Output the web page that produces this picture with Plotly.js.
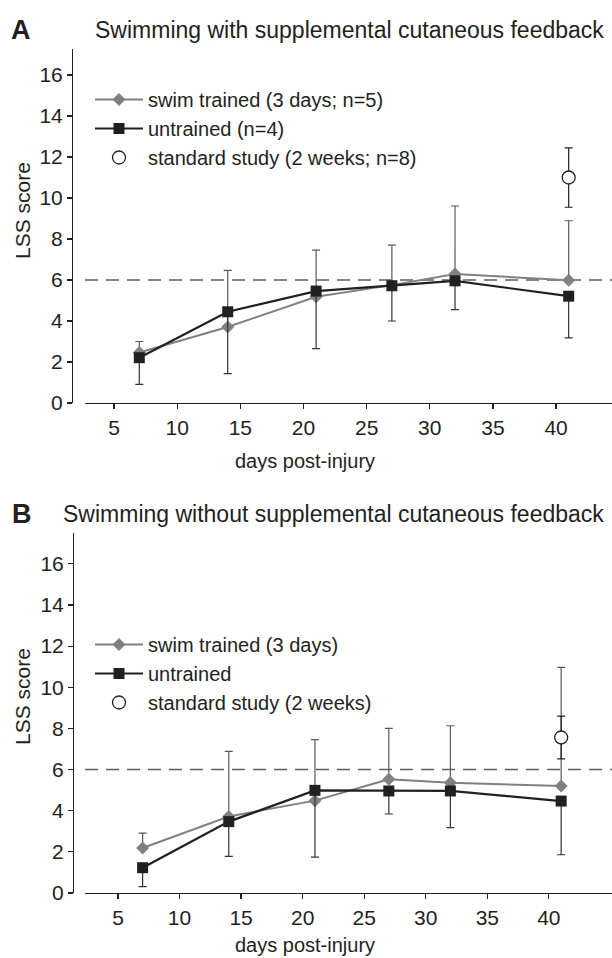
<!DOCTYPE html>
<html><head><meta charset="utf-8">
<script src="https://cdn.plot.ly/plotly-3.0.1.min.js"></script>
<style>body{margin:0;background:#fff}</style>
</head><body><div id="chart" style="width:612px;height:958px"></div>
<script>
// ---- data ----
const days = [7, 14, 21, 27, 32, 41];
const stdDay = [41];
const xTicks = [5, 10, 15, 20, 25, 30, 35, 40];
const yTicks = [0, 2, 4, 6, 8, 10, 12, 14, 16];

// Panel A: with supplemental cutaneous feedback
const aSwim = [2.46, 3.71, 5.18, 5.75, 6.29, 5.99];
const aUntrained = [2.21, 4.45, 5.46, 5.72, 5.96, 5.21];
const aUpperEnd = [3.0, 6.47, 7.46, 7.7, 9.61, 8.89];
const aLowerEnd = [0.91, 1.43, 2.65, 4.0, 4.56, 3.18];
const aStd = [11.0];
const aStdErr = [1.45];

// Panel B: without supplemental cutaneous feedback
const bSwim = [2.19, 3.72, 4.49, 5.53, 5.36, 5.2];
const bUntrained = [1.23, 3.47, 4.99, 4.96, 4.96, 4.47];
const bUpperEnd = [2.91, 6.88, 7.46, 8.0, 8.13, 10.97];
const bLowerEnd = [0.31, 1.78, 1.74, 3.84, 3.18, 1.86];
const bStd = [7.56];
const bStdErr = [1.04];

const threshold = 6;

// ---- styling ----
const FONT = 'Liberation Sans, Arial, Helvetica, sans-serif';
const INK = '#231f20';
const GRAY = '#808080';
const W = 612, H = 958;
const px = v => v / W;
const py = v => 1 - v / H;

function diff(a, b) { return a.map((v, i) => v - b[i]); }
function zeros(a) { return a.map(() => 0); }

function panelTraces(sfx, legendId, swim, untr, upEnd, lowEnd, std, stdErr, names) {
  return [
    {
      x: days, y: swim, xaxis: 'x' + sfx, yaxis: 'y' + sfx, name: names[0],
      legend: legendId, legendgroup: legendId + 'g1',
      mode: 'lines+markers', line: {color: GRAY, width: 2},
      marker: {symbol: 'diamond', size: 10, color: GRAY},
      error_y: {type: 'data', symmetric: false, array: diff(upEnd, swim), arrayminus: zeros(swim),
                color: '#5a5a5a', thickness: 1.2, width: 4}
    },
    {
      x: days, y: untr, xaxis: 'x' + sfx, yaxis: 'y' + sfx, name: names[1],
      legend: legendId, legendgroup: legendId + 'g2',
      mode: 'lines+markers', line: {color: INK, width: 2.2},
      marker: {symbol: 'square', size: 11, color: INK},
      error_y: {type: 'data', symmetric: false, array: zeros(untr), arrayminus: diff(untr, lowEnd),
                color: '#333333', thickness: 1.2, width: 4}
    },
    {
      x: stdDay, y: std, xaxis: 'x' + sfx, yaxis: 'y' + sfx, name: names[2],
      legend: legendId, legendgroup: legendId + 'g3',
      mode: 'markers',
      marker: {symbol: 'circle', size: 13, color: '#ffffff', line: {color: INK, width: 1.3}},
      error_y: {type: 'data', array: stdErr, color: INK, thickness: 1.2, width: 4}
    }
  ];
}

const data = [].concat(
  panelTraces('', 'legend', aSwim, aUntrained, aUpperEnd, aLowerEnd, aStd, aStdErr,
    ['swim trained (3 days; n=5)', 'untrained (n=4)', 'standard study (2 weeks; n=8)']),
  panelTraces('2', 'legend2', bSwim, bUntrained, bUpperEnd, bLowerEnd, bStd, bStdErr,
    ['swim trained (3 days)', 'untrained', 'standard study (2 weeks)'])
);

function xAxis(domain, range, anchor) {
  return {
    domain: domain, range: range, anchor: anchor,
    showline: true, linecolor: INK, linewidth: 1.3,
    ticks: 'outside', ticklen: 5, tickwidth: 1.2, tickcolor: INK,
    tickvals: xTicks, ticktext: xTicks.map(String),
    tickfont: {family: FONT, size: 21, color: INK},
    showgrid: false, zeroline: false, fixedrange: true
  };
}
function yAxis(domain, range, position) {
  return {
    domain: domain, range: range, anchor: 'free', position: position,
    showline: true, linecolor: INK, linewidth: 1.3,
    ticks: 'outside', ticklen: 5, tickwidth: 1.2, tickcolor: INK,
    tickvals: yTicks, ticktext: yTicks.map(String),
    tickfont: {family: FONT, size: 21, color: INK},
    showgrid: false, zeroline: false, fixedrange: true
  };
}

function legendObj(top) {
  return {
    x: px(90), y: py(top), xanchor: 'left', yanchor: 'top',
    font: {family: FONT, size: 20, color: INK},
    bgcolor: 'rgba(0,0,0,0)', borderwidth: 0, tracegroupgap: 0,
    traceorder: 'grouped', itemwidth: 48
  };
}

function ann(text, x, y, opts) {
  return Object.assign({
    text: text, xref: 'paper', yref: 'paper', x: px(x), y: py(y),
    showarrow: false, xanchor: 'left', yanchor: 'middle',
    font: {family: FONT, size: 20, color: INK}
  }, opts || {});
}

const layout = {
  width: W, height: H,
  margin: {l: 0, r: 0, t: 0, b: 0},
  paper_bgcolor: '#ffffff', plot_bgcolor: 'rgba(0,0,0,0)',
  showlegend: true,
  xaxis: xAxis([px(85), 1], [2.70, 44.43], 'y'),
  yaxis: yAxis([py(403), py(49.4)], [0, 17.25], px(72)),
  xaxis2: xAxis([px(85), 1], [2.32, 45.13], 'y2'),
  yaxis2: yAxis([py(893), py(533)], [0, 17.5], px(73)),
  legend: legendObj(80),
  legend2: legendObj(625),
  shapes: [
    {type: 'line', xref: 'x domain', yref: 'y', x0: 0, x1: 1, y0: threshold, y1: threshold,
     line: {color: '#5e5e5e', width: 1.6, dash: '13px,8px'}, layer: 'below'},
    {type: 'line', xref: 'x2 domain', yref: 'y2', x0: 0, x1: 1, y0: threshold, y1: threshold,
     line: {color: '#5e5e5e', width: 1.6, dash: '13px,8px'}, layer: 'below'}
  ],
  annotations: [
    ann('<b>A</b>', 9, 30, {font: {family: FONT, size: 27, color: INK}}),
    ann('Swimming with supplemental cutaneous feedback', 606, 30, {xanchor: 'right', font: {family: FONT, size: 23, color: INK}}),
    ann('<b>B</b>', 10, 514, {font: {family: FONT, size: 27, color: INK}}),
    ann('Swimming without supplemental cutaneous feedback', 606, 514, {xanchor: 'right', font: {family: FONT, size: 23, color: INK}}),
    ann('days post-injury', 305, 461, {xanchor: 'center'}),
    ann('days post-injury', 305, 945, {xanchor: 'center'}),
    ann('LSS score', 22, 211, {xanchor: 'center', textangle: -90, font: {family: FONT, size: 21, color: INK}}),
    ann('LSS score', 22, 697, {xanchor: 'center', textangle: -90, font: {family: FONT, size: 21, color: INK}})
  ]
};

Plotly.newPlot('chart', data, layout, {staticPlot: true, displayModeBar: false});
</script>
</body></html>
